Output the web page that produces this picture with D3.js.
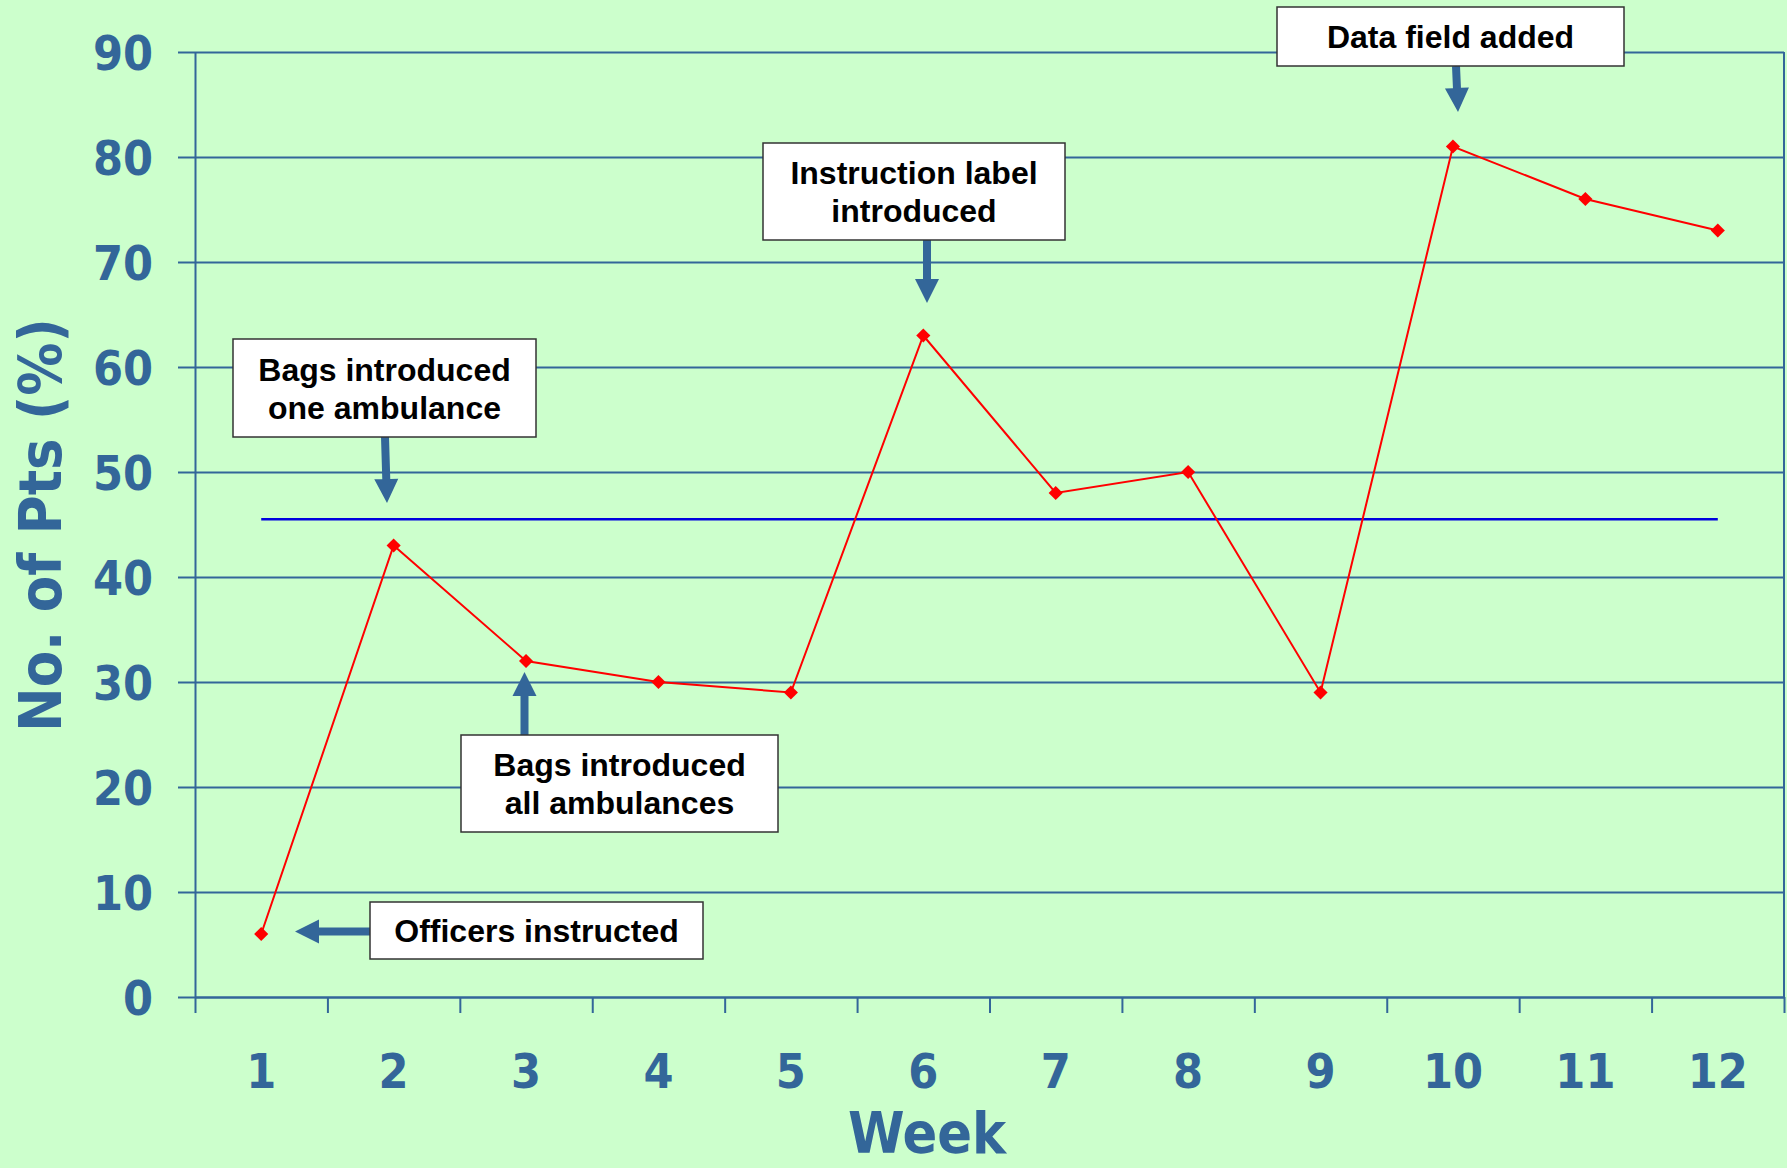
<!DOCTYPE html>
<html>
<head>
<meta charset="utf-8">
<script src="https://cdn.jsdelivr.net/npm/d3@7"></script>
<style>
  body { margin: 0; background: #ccffcc; }
  .tick text { fill: #336699; }
</style>
</head>
<body>
<div id="chart"></div>
<script>
// chart data
var weeks = [1, 2, 3, 4, 5, 6, 7, 8, 9, 10, 11, 12];
var pts = [6, 43, 32, 30, 29, 63, 48, 50, 29, 81, 76, 73];
var meanPts = 45.5;
var yTicks = [0, 10, 20, 30, 40, 50, 60, 70, 80, 90];

var noteText = [
  ["Data field added"],
  ["Instruction label", "introduced"],
  ["Bags introduced", "one ambulance"],
  ["Bags introduced", "all ambulances"],
  ["Officers instructed"]
];

// box [x, y, w, h] and arrow [from, to] for each note, in pixels
var noteLayout = [
  { box: [1277, 7, 347, 59], arrow: [[1456, 66], [1458, 112]] },
  { box: [763, 143, 302, 97], arrow: [[927, 240], [927, 303]] },
  { box: [233, 339, 303, 98], arrow: [[385, 437], [387, 503]] },
  { box: [461, 735, 317, 97], arrow: [[524.5, 735], [524.5, 672]] },
  { box: [370, 902, 333, 57], arrow: [[370, 931.5], [295, 931.5]] }
];

var svgWidth = 1787;
var svgHeight = 1168;
var margin = { top: 52, right: 3, bottom: 171, left: 195 };
var width = svgWidth - margin.left - margin.right;
var height = svgHeight - margin.top - margin.bottom;

var blue = "#336699";
var axisFont = "'DejaVu Sans Condensed', 'DejaVu Sans', sans-serif";

var svg = d3.select("#chart")
  .append("svg")
  .attr("width", svgWidth)
  .attr("height", svgHeight)
  .style("background", "#ccffcc");

var chartGroup = svg.append("g")
  .attr("transform", `translate(${margin.left}, ${margin.top})`);

var xBand = d3.scaleBand().domain(weeks).range([0, width]);
var xEdge = d3.scaleLinear().domain([0.5, 12.5]).range([0, width]);
var yScale = d3.scaleLinear().domain([0, 90]).range([height, 0]);
var xc = d => xBand(d) + xBand.bandwidth() / 2;

// gridlines
chartGroup.append("g")
  .call(d3.axisLeft(yScale).tickValues(yTicks).tickSize(-width).tickFormat(""))
  .call(g => g.select(".domain").remove())
  .selectAll("line")
  .attr("stroke", blue)
  .attr("stroke-width", 2);

// right border
chartGroup.append("line")
  .attr("x1", width).attr("x2", width)
  .attr("y1", 0).attr("y2", height)
  .attr("stroke", blue).attr("stroke-width", 2);

// y axis
var yAxis = chartGroup.append("g")
  .call(d3.axisLeft(yScale).tickValues(yTicks).tickSize(17).tickSizeOuter(0).tickPadding(25));
yAxis.select(".domain").attr("stroke", blue).attr("stroke-width", 2);
yAxis.selectAll("line").attr("stroke", blue).attr("stroke-width", 2);
yAxis.selectAll("text")
  .attr("dy", "0.36em")
  .style("font-family", axisFont)
  .style("font-stretch", "condensed")
  .style("font-weight", "bold")
  .style("font-size", "48px");

// x axis ticks at week boundaries
var xTicks = chartGroup.append("g")
  .attr("transform", `translate(0, ${height})`)
  .call(d3.axisBottom(xEdge).tickValues(d3.range(0.5, 13, 1)).tickSize(16).tickSizeOuter(0).tickFormat(""));
xTicks.select(".domain").attr("stroke", blue).attr("stroke-width", 2);
xTicks.selectAll("line").attr("stroke", blue).attr("stroke-width", 2);

// x labels at week centres
var xLabels = chartGroup.append("g")
  .attr("transform", `translate(0, ${height})`)
  .call(d3.axisBottom(xBand).tickSize(0).tickPadding(57));
xLabels.select(".domain").remove();
xLabels.selectAll("text")
  .style("font-family", axisFont)
  .style("font-stretch", "condensed")
  .style("font-weight", "bold")
  .style("font-size", "48px");

// mean line
chartGroup.append("line")
  .attr("x1", xc(weeks[0]))
  .attr("x2", xc(weeks[weeks.length - 1]))
  .attr("y1", yScale(meanPts))
  .attr("y2", yScale(meanPts))
  .attr("stroke", "#0000dd")
  .attr("stroke-width", 2.5);

// data line
var data = weeks.map((w, i) => ({ week: w, value: pts[i] }));
var line = d3.line().x(d => xc(d.week)).y(d => yScale(d.value));

chartGroup.append("path")
  .datum(data)
  .attr("d", line)
  .attr("fill", "none")
  .attr("stroke", "#ff0000")
  .attr("stroke-width", 2);

chartGroup.selectAll(".pt")
  .data(data)
  .enter()
  .append("path")
  .attr("class", "pt")
  .attr("d", d3.symbol(d3.symbolSquare, 100))
  .attr("transform", d => `translate(${xc(d.week)}, ${yScale(d.value)}) rotate(45)`)
  .attr("fill", "#ff0000");

// axis titles
svg.append("text")
  .attr("transform", "translate(61, 525) rotate(-90)")
  .attr("text-anchor", "middle")
  .style("font-family", axisFont)
  .style("font-stretch", "condensed")
  .style("font-weight", "bold")
  .style("font-size", "59px")
  .attr("fill", blue)
  .text("No. of Pts (%)");

svg.append("text")
  .attr("x", 927)
  .attr("y", 1153)
  .attr("text-anchor", "middle")
  .style("font-family", axisFont)
  .style("font-stretch", "condensed")
  .style("font-weight", "bold")
  .style("font-size", "57px")
  .attr("fill", blue)
  .text("Week");

// annotations
function arrowPath(a, b) {
  var dx = b[0] - a[0], dy = b[1] - a[1];
  var len = Math.sqrt(dx * dx + dy * dy);
  var ux = dx / len, uy = dy / len;
  var px = -uy, py = ux;
  var shaft = 4, head = 12, headLen = 24;
  var bx = b[0] - ux * headLen, by = b[1] - uy * headLen;
  var p = [
    [a[0] + px * shaft, a[1] + py * shaft],
    [bx + px * shaft, by + py * shaft],
    [bx + px * head, by + py * head],
    b,
    [bx - px * head, by - py * head],
    [bx - px * shaft, by - py * shaft],
    [a[0] - px * shaft, a[1] - py * shaft]
  ];
  return "M" + p.map(q => q.join(",")).join("L") + "Z";
}

var notes = svg.selectAll(".note")
  .data(noteText)
  .enter()
  .append("g")
  .attr("class", "note");

notes.append("path")
  .attr("d", (d, i) => arrowPath(noteLayout[i].arrow[0], noteLayout[i].arrow[1]))
  .attr("fill", blue);

notes.append("rect")
  .attr("x", (d, i) => noteLayout[i].box[0])
  .attr("y", (d, i) => noteLayout[i].box[1])
  .attr("width", (d, i) => noteLayout[i].box[2])
  .attr("height", (d, i) => noteLayout[i].box[3])
  .attr("fill", "#ffffff")
  .attr("stroke", "#333333")
  .attr("stroke-width", 1.5);

notes.each(function(d, i) {
  var b = noteLayout[i].box;
  var cx = b[0] + b[2] / 2, cy = b[1] + b[3] / 2;
  d3.select(this).selectAll("text.lbl")
    .data(d)
    .enter()
    .append("text")
    .attr("class", "lbl")
    .attr("x", cx)
    .attr("y", (t, j) => cy + (j - (d.length - 1) / 2) * 38 + 11.5)
    .attr("text-anchor", "middle")
    .style("font-family", "'Liberation Sans', Arial, sans-serif")
    .style("font-weight", "bold")
    .style("font-size", "32px")
    .attr("fill", "#000000")
    .text(t => t);
});
</script>
</body>
</html>
